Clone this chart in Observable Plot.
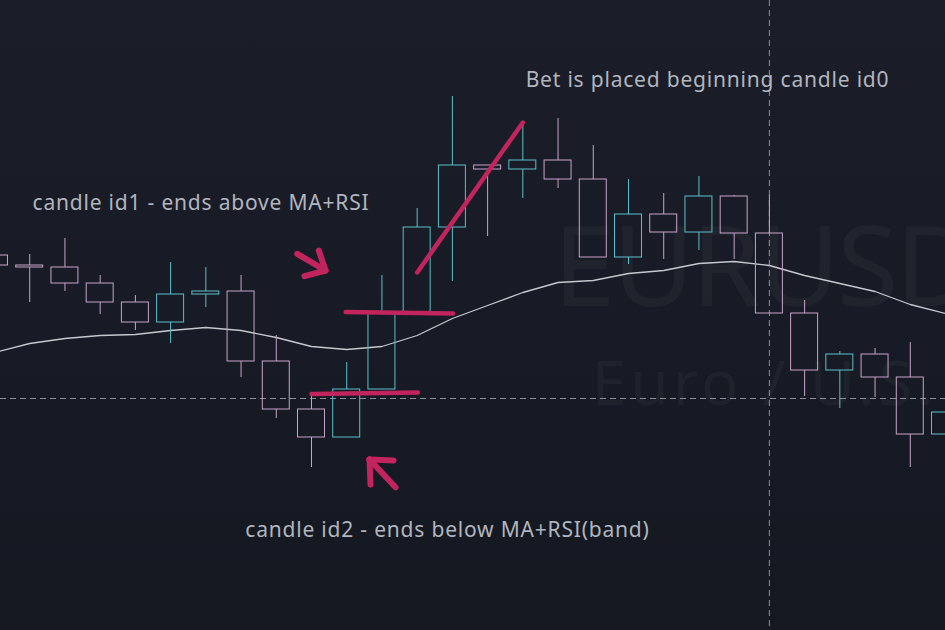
<!DOCTYPE html>
<html>
<head>
<meta charset="utf-8">
<script src="https://cdn.jsdelivr.net/npm/d3@7"></script>
<script src="https://cdn.jsdelivr.net/npm/@observablehq/plot@0.6"></script>
<style>
  html, body { margin: 0; padding: 0; }
  body { width: 945px; height: 630px; overflow: hidden;
         background: linear-gradient(#1b1e29, #141821); }
  #chart svg { display: block; }
</style>
</head>
<body>
<div id="chart"></div>
<script>
// ---- Data (EURUSD candles, index 0 = partially visible left candle) ----
const candleIds = d3.range(28);
const opens  = [1.08286,1.08266,1.08262,1.08230,1.08192,1.08152,1.08208,1.08214,1.08074,1.07978,
                1.07922,1.08018,1.08170,1.08342,1.08466,1.08458,1.08476,1.08438,1.08282,1.08368,
                1.08332,1.08404,1.08330,1.08170,1.08056,1.08088,1.08042,1.07928];
const highs  = [1.08296,1.08288,1.08320,1.08246,1.08206,1.08272,1.08262,1.08246,1.08126,1.08010,
                1.08072,1.08246,1.08380,1.08604,1.08466,1.08546,1.08560,1.08506,1.08438,1.08410,
                1.08444,1.08406,1.08406,1.08196,1.08094,1.08100,1.08112,1.07986];
const lows   = [1.08256,1.08192,1.08214,1.08168,1.08136,1.08110,1.08182,1.08042,1.07960,1.07862,
                1.07922,1.08018,1.08166,1.08234,1.08324,1.08400,1.08420,1.08282,1.08268,1.08278,
                1.08296,1.08278,1.08170,1.08004,1.07980,1.08002,1.07862,1.07916];
const closes = [1.08266,1.08262,1.08230,1.08192,1.08152,1.08208,1.08214,1.08074,1.07978,1.07922,
                1.08018,1.08170,1.08342,1.08466,1.08458,1.08476,1.08438,1.08282,1.08368,1.08332,
                1.08404,1.08330,1.08170,1.08056,1.08088,1.08042,1.07928,1.07972];
const maValues = [1.08092,1.08110,1.08120,1.08126,1.08128,1.08136,1.08142,1.08136,1.08122,1.08104,
                  1.08098,1.08104,1.08126,1.08160,1.08186,1.08212,1.08232,1.08236,1.08250,1.08256,
                  1.08270,1.08274,1.08266,1.08246,1.08230,1.08214,1.08188,1.08170];
const crosshairId = 22;
const crosshairPrice = 1.08000;

// annotation drawings, in (candle index, price)
const redLines = [
  {x1: 12.0, y1: 1.08252, x2: 15.0, y2: 1.08552},
  {x1: 9.97, y1: 1.08173, x2: 13.02, y2: 1.08170},
  {x1: 9.0,  y1: 1.08009, x2: 12.02, y2: 1.08012}
];
const arrowSegments = [
  {x1: 8.594, y1: 1.082894, x2: 9.398, y2: 1.08256},
  {x1: 9.207, y1: 1.08296,  x2: 9.398, y2: 1.08256},
  {x1: 8.801, y1: 1.082446, x2: 9.398, y2: 1.08256},
  {x1: 11.385, y1: 1.078226, x2: 10.647, y2: 1.07878},
  {x1: 11.328, y1: 1.07876,  x2: 10.647, y2: 1.07878},
  {x1: 10.675, y1: 1.07828,  x2: 10.647, y2: 1.07878}
];
const labels = [
  {text: "Bet is placed beginning candle id0", x: 15.08, y: 1.086368},
  {text: "candle id1 - ends above MA+RSI", x: 1.08, y: 1.083908},
  {text: "candle id2 - ends below MA+RSI(band)", x: 7.12, y: 1.077368}
];
const watermark = [
  {text: "EURUSD", x: 15.86, y: 1.08256, size: 112, spacing: -3},
  {text: "Euro / U.S. Dollar", x: 16.96, y: 1.08026, size: 62, spacing: 4}
];

const candles = candleIds.map((i) => ({
  i, open: opens[i], high: highs[i], low: lows[i], close: closes[i],
  dir: closes[i] >= opens[i] ? "up" : "down"
}));
const ma = candleIds.map((i) => ({i, v: maValues[i]}));

const teal = "#5cbfc9";
const lav = "#c8a3ca";
const red = "#c2245e";
const half = 0.383;

const chart = Plot.plot({
  width: 945,
  height: 630,
  margin: 0,
  style: {background: "transparent", fontFamily: "'Noto Sans', sans-serif", overflow: "hidden"},
  x: {domain: [0, 27], range: [-6, 945], axis: null},
  y: {domain: [1.07536, 1.08796], range: [630, 0], axis: null},
  color: {domain: ["up", "down"], range: [teal, lav]},
  marks: [
    Plot.text(watermark, {x: "x", y: "y", text: "text", fontSize: (d) => d.size, textAnchor: "start",
      lineAnchor: "middle", fill: "#ffffff", fillOpacity: 0.035}),
    Plot.ruleX([crosshairId], {stroke: "#8d909a", strokeWidth: 1, strokeDasharray: "6,4"}),
    Plot.ruleY([crosshairPrice], {stroke: "#8d909a", strokeWidth: 1, strokeDasharray: "6,4"}),
    Plot.line(ma, {x: "i", y: "v", stroke: "#c6c8ce", strokeWidth: 1.3}),
    Plot.ruleX(candles, {x: "i", y1: "high", y2: (d) => Math.max(d.open, d.close), stroke: "dir", strokeWidth: 1}),
    Plot.ruleX(candles, {x: "i", y1: (d) => Math.min(d.open, d.close), y2: "low", stroke: "dir", strokeWidth: 1}),
    Plot.rect(candles, {x1: (d) => d.i - half, x2: (d) => d.i + half, y1: "open", y2: "close",
      fill: "none", stroke: "dir", strokeWidth: 1}),
    Plot.link(redLines, {x1: "x1", y1: "y1", x2: "x2", y2: "y2", stroke: red, strokeWidth: 4.5, strokeLinecap: "round"}),
    Plot.link(arrowSegments, {x1: "x1", y1: "y1", x2: "x2", y2: "y2", stroke: red, strokeWidth: 6, strokeLinecap: "round"}),
    Plot.text(labels, {x: "x", y: "y", text: "text", fontSize: 21, textAnchor: "start", lineAnchor: "middle",
      fill: "#b2b5be"})
  ]
});
const labelTexts = labels.map((d) => d.text);
d3.select(chart).selectAll("text").each(function () {
  const t = this.textContent;
  const w = watermark.find((d) => d.text === t);
  if (labelTexts.includes(t)) this.setAttribute("letter-spacing", "0.8px");
  else if (w) this.setAttribute("letter-spacing", w.spacing + "px");
});
document.getElementById("chart").appendChild(chart);
</script>
</body>
</html>
